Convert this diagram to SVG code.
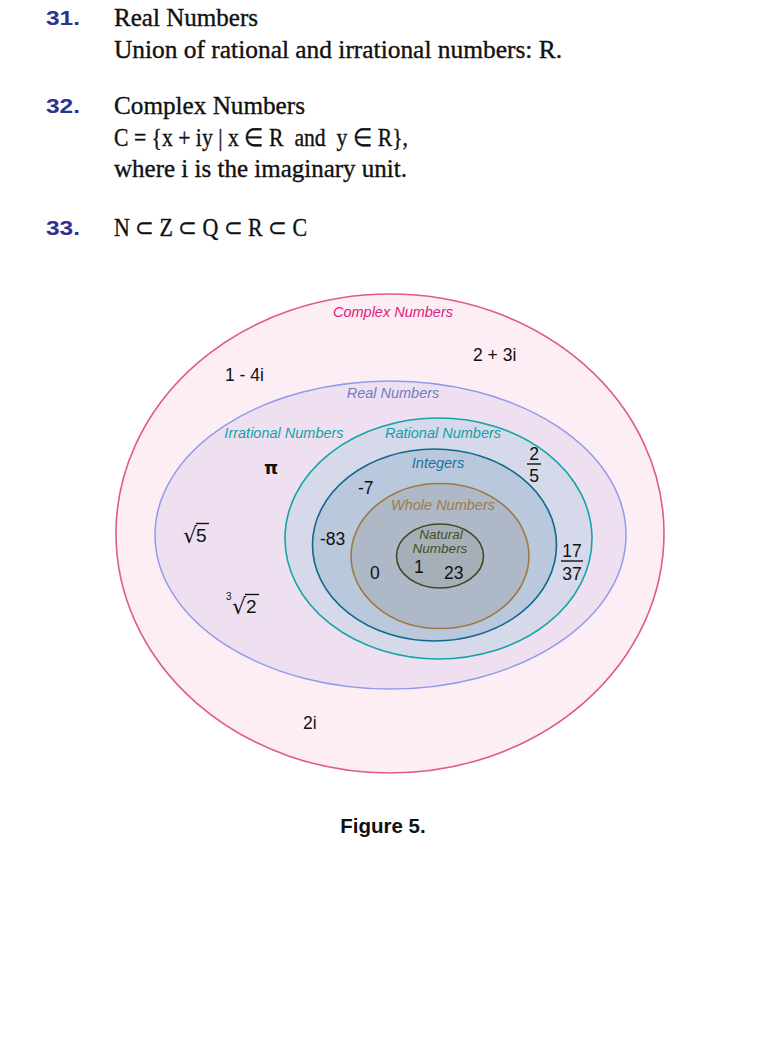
<svg xmlns="http://www.w3.org/2000/svg" width="765" height="1056" viewBox="0 0 765 1056">
<style>
.num{font-family:"Liberation Sans",Arial,sans-serif;font-weight:bold;font-size:20.5px;fill:#2e3192}
.ser{font-family:"Liberation Serif","Times New Roman",serif;font-size:24.5px;fill:#111;stroke:#111;stroke-width:0.35}
.lbl{font-family:"Liberation Sans",Arial,sans-serif;font-style:italic;font-size:14.5px;text-anchor:middle}
.val{font-family:"Liberation Sans",Arial,sans-serif;font-size:17.5px;fill:#111}
.fr{font-family:"Liberation Sans",Arial,sans-serif;font-size:17.5px;fill:#111;text-anchor:middle}
.bar{stroke:#111;stroke-width:1.4}
</style>
<rect width="765" height="1056" fill="#ffffff"/>
<g id="header">
<text class="num" x="46" y="25" textLength="34" lengthAdjust="spacingAndGlyphs">31.</text>
<text class="ser" x="114" y="26" textLength="144" lengthAdjust="spacingAndGlyphs">Real Numbers</text>
<text class="ser" x="114" y="58" textLength="448" lengthAdjust="spacingAndGlyphs">Union of rational and irrational numbers: R.</text>
<text class="num" x="46" y="113" textLength="34" lengthAdjust="spacingAndGlyphs">32.</text>
<text class="ser" x="114" y="114" textLength="191" lengthAdjust="spacingAndGlyphs">Complex Numbers</text>
<text class="ser" x="114" y="146" xml:space="preserve" textLength="294" lengthAdjust="spacingAndGlyphs">C = {x + iy | x ∈ R  and  y ∈ R},</text>
<text class="ser" x="114" y="177" textLength="293" lengthAdjust="spacingAndGlyphs">where i is the imaginary unit.</text>
<text class="num" x="46" y="235" textLength="34" lengthAdjust="spacingAndGlyphs">33.</text>
<text class="ser" x="114" y="236" xml:space="preserve" textLength="193" lengthAdjust="spacingAndGlyphs">N ⊂ Z ⊂ Q ⊂ R ⊂ C</text>
</g>
<g id="complex">
<ellipse cx="390" cy="533.5" rx="274" ry="239.5" fill="#fdedf5" stroke="#e05a8c" stroke-width="1.6"/>
<text class="lbl" x="393" y="317" fill="#e0207a">Complex Numbers</text>
<text class="val" x="473" y="361">2 + 3i</text>
<text class="val" x="225" y="381">1 - 4i</text>
<text class="val" x="303" y="729">2i</text>
</g>
<g id="real">
<ellipse cx="390.5" cy="535" rx="235.5" ry="154" fill="#efe0f1" stroke="#8f9ce8" stroke-width="1.5"/>
<text class="lbl" x="393" y="398" fill="#6e7ec0">Real Numbers</text>
</g>
<g id="irrational">
<text class="lbl" x="284" y="438" fill="#12a0a8">Irrational Numbers</text>
<text x="264" y="474" style="font-family:'DejaVu Sans',sans-serif;font-size:18px;font-weight:bold;fill:#111">π</text>
<text x="183" y="543" style="font-family:'DejaVu Sans',sans-serif;font-size:22px;fill:#111">√</text>
<line class="bar" x1="196" y1="523.5" x2="209" y2="523.5"/>
<text class="val" x="196" y="542" style="font-size:19px">5</text>
<text x="226" y="600" style="font-family:'Liberation Sans',sans-serif;font-size:10px;fill:#111">3</text>
<text x="232" y="614" style="font-family:'DejaVu Sans',sans-serif;font-size:22px;fill:#111">√</text>
<line class="bar" x1="245" y1="594.5" x2="259" y2="594.5"/>
<text class="val" x="246" y="613" style="font-size:19px">2</text>
</g>
<g id="rational">
<ellipse cx="438.5" cy="538.5" rx="153.5" ry="120.5" fill="#d5d9ea" stroke="#16a3a8" stroke-width="1.6"/>
<text class="lbl" x="443" y="438" fill="#12a0a8">Rational Numbers</text>
<text class="fr" x="534" y="460">2</text>
<line class="bar" x1="527" y1="464" x2="541" y2="464"/>
<text class="fr" x="534" y="482">5</text>
<text class="fr" x="572" y="557">17</text>
<line class="bar" x1="561" y1="561" x2="583" y2="561"/>
<text class="fr" x="572" y="580">37</text>
</g>
<g id="integers">
<ellipse cx="434.5" cy="545" rx="122" ry="96" fill="#b9c8dd" stroke="#0e6a8c" stroke-width="1.6"/>
<text class="lbl" x="438" y="468" fill="#1a72a6">Integers</text>
<text class="val" x="358" y="494">-7</text>
<text class="val" x="320" y="545">-83</text>
</g>
<g id="whole">
<ellipse cx="440" cy="556" rx="89" ry="72.5" fill="#aeb8c7" stroke="#9c7a42" stroke-width="1.6"/>
<text class="lbl" x="443" y="510" fill="#a07c48">Whole Numbers</text>
<text class="val" x="370" y="579">0</text>
</g>
<g id="natural">
<ellipse cx="440" cy="556" rx="43.5" ry="32" fill="#a6afb8" stroke="#3b4b22" stroke-width="1.6"/>
<text class="lbl" x="441" y="539" fill="#3f4f25" style="font-size:13.5px">Natural</text>
<text class="lbl" x="440" y="553" fill="#3f4f25" style="font-size:13.5px">Numbers</text>
<text class="val" x="414" y="573">1</text>
<text class="val" x="444" y="579">23</text>
</g>
<text x="383" y="833" font-family="Liberation Sans,Arial,sans-serif" font-weight="bold" font-size="20.5" text-anchor="middle" fill="#111">Figure 5.</text>
</svg>
